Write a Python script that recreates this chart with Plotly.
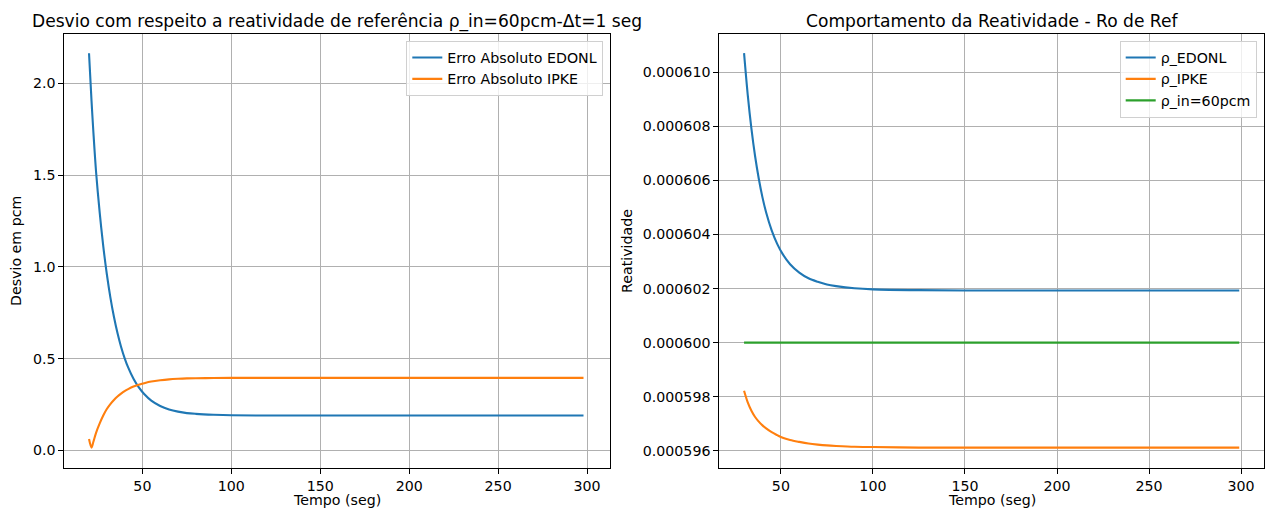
import plotly.graph_objects as go

# Left panel: absolute deviation (pcm) from the 60 pcm reference reactivity
t_erro = [20, 21.4, 22.5, 24, 26, 28, 30, 32, 34, 36, 38, 40, 42, 45, 48, 51,
          55, 60, 65, 70, 75, 80, 90, 100, 125, 150, 200, 250, 298]
erro_edonl = [2.164, 1.906, 1.727, 1.513, 1.295, 1.113, 0.961, 0.834, 0.728, 0.639,
              0.565, 0.503, 0.452, 0.390, 0.343, 0.307, 0.271, 0.242, 0.223,
              0.211, 0.203, 0.199, 0.194, 0.191, 0.190, 0.190, 0.190, 0.190, 0.190]
erro_ipke = [0.062, 0.015, 0.048, 0.097, 0.147, 0.190, 0.225, 0.252, 0.274,
             0.293, 0.309, 0.323, 0.334, 0.348, 0.358, 0.366, 0.375, 0.382, 0.387,
             0.390, 0.392, 0.393, 0.394, 0.395, 0.395, 0.395, 0.395, 0.395, 0.395]

# Right panel: reactivity behaviour
t_rho = [30, 32, 34, 36, 38, 40, 42, 45, 48, 51, 55, 60, 65, 70, 75, 80, 90, 100,
         125, 150, 200, 250, 299]
rho_edonl = [0.00061070, 0.00060916, 0.00060791, 0.00060689, 0.00060606, 0.00060537,
             0.00060481, 0.00060415, 0.00060365, 0.00060327, 0.00060290, 0.00060259,
             0.00060238, 0.00060225, 0.00060215, 0.00060209, 0.00060201, 0.00060197,
             0.00060194, 0.00060193, 0.00060193, 0.00060193, 0.00060193]
rho_ipke = [0.00059822, 0.00059779, 0.00059748, 0.00059725, 0.00059708, 0.00059694,
            0.00059683, 0.00059669, 0.00059658, 0.00059648, 0.00059640, 0.00059633,
            0.00059627, 0.00059623, 0.00059620, 0.00059618, 0.00059615, 0.00059614,
            0.00059612, 0.00059612, 0.00059612, 0.00059612, 0.00059612]
rho_in = [0.0006] * len(t_rho)

BLUE, ORANGE, GREEN = "#1f77b4", "#ff7f0e", "#2ca02c"
FONT = "DejaVu Sans"
FS = 14.2      # tick, legend and axis-label size
FS_TITLE = 17.1
W, H = 1265, 512


def curve(x, y, name, color, xa, ya, leg):
    return go.Scatter(x=x, y=y, mode="lines", name=name,
                      line=dict(color=color, width=2.1, shape="spline", smoothing=0.9),
                      xaxis=xa, yaxis=ya, legend=leg)


fig = go.Figure()
fig.add_trace(curve(t_erro, erro_edonl, "Erro Absoluto EDONL", BLUE, "x", "y", "legend"))
fig.add_trace(curve(t_erro, erro_ipke, "Erro Absoluto IPKE", ORANGE, "x", "y", "legend"))
fig.add_trace(curve(t_rho, rho_edonl, "ρ_EDONL", BLUE, "x2", "y2", "legend2"))
fig.add_trace(curve(t_rho, rho_ipke, "ρ_IPKE", ORANGE, "x2", "y2", "legend2"))
fig.add_trace(curve(t_rho, rho_in, "ρ_in=60pcm", GREEN, "x2", "y2", "legend2"))

ax_common = dict(showline=True, mirror=True, linecolor="black", linewidth=1,
                 showgrid=True, gridcolor="#b0b0b0", gridwidth=1, zeroline=False,
                 ticks="outside", ticklen=5, tickwidth=1, tickcolor="black",
                 tickfont=dict(family=FONT, size=FS, color="black"))

y0, y1 = 1 - 467.6 / H, 1 - 34 / H
legend_style = dict(bgcolor="rgba(255,255,255,0.8)", bordercolor="#d0d0d0", borderwidth=1,
                    xanchor="right", yanchor="top", itemwidth=30,
                    font=dict(family=FONT, size=FS, color="black"))
fig.update_layout(
    width=W, height=H, margin=dict(l=0, r=0, t=0, b=0),
    paper_bgcolor="white", plot_bgcolor="white",
    font=dict(family=FONT, size=FS, color="black"),
    xaxis=dict(domain=[64.3 / W, 610 / W], range=[6.1, 312.9], tickvals=[50, 100, 150, 200, 250, 300],
               anchor="y", **ax_common),
    yaxis=dict(domain=[y0, y1], range=[-0.094, 2.269], tickvals=[0.0, 0.5, 1.0, 1.5, 2.0],
               tickformat=".1f", anchor="x", **ax_common),
    xaxis2=dict(domain=[719.3 / W, 1264 / W], range=[16.55, 312.45], tickvals=[50, 100, 150, 200, 250, 300],
                anchor="y2", **ax_common),
    yaxis2=dict(domain=[y0, y1], range=[0.00059538, 0.00061141],
                tickvals=[0.000596, 0.000598, 0.000600, 0.000602, 0.000604, 0.000606, 0.000608, 0.000610],
                tickformat=".6f", anchor="x2", **ax_common),
    legend=dict(x=603.3 / W, y=1 - 40.7 / H, **legend_style),
    legend2=dict(x=1256.7 / W, y=1 - 40.7 / H, **legend_style),
    showlegend=True,
)

annots = [
    dict(text="Desvio com respeito a reatividade de referência ρ_in=60pcm-Δt=1 seg",
         x=(64.3 + 610) / 2 / W, y=1 - 21 / H, size=FS_TITLE, angle=0),
    dict(text="Comportamento da Reatividade - Ro de Ref",
         x=(719.3 + 1264) / 2 / W, y=1 - 21 / H, size=FS_TITLE, angle=0),
    dict(text="Tempo (seg)", x=(64.3 + 610) / 2 / W, y=1 - 500 / H, size=FS, angle=0),
    dict(text="Tempo (seg)", x=(719.3 + 1264) / 2 / W, y=1 - 500 / H, size=FS, angle=0),
    dict(text="Desvio em pcm", x=16 / W, y=1 - 251 / H, size=FS, angle=-90),
    dict(text="Reatividade", x=627 / W, y=1 - 251 / H, size=FS, angle=-90),
]
for a in annots:
    fig.add_annotation(text=a["text"], x=a["x"], y=a["y"], xref="paper", yref="paper",
                       xanchor="center", yanchor="middle", showarrow=False, textangle=a["angle"],
                       font=dict(family=FONT, size=a["size"], color="black"))

fig.write_html("out.html")
